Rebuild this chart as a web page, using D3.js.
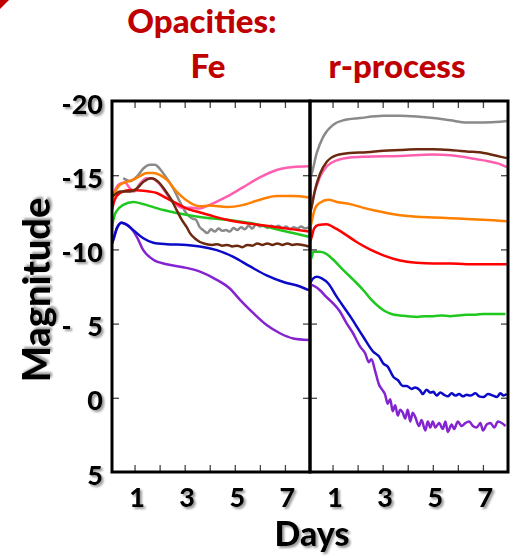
<!DOCTYPE html>
<html>
<head>
<meta charset="utf-8">
<script src="https://cdn.jsdelivr.net/npm/d3@7"></script>
<style>
  html, body { margin: 0; padding: 0; background: #fff; }
  svg { display: block; font-family: Lato, "Open Sans", sans-serif; }
</style>
</head>
<body>
<svg id="chart" width="514" height="558"></svg>
<script>
// panel titles and axis text
const panelTitles = ['Fe', 'r-process'];
const dayTicks = [1, 2, 3, 4, 5, 6, 7];
const dayLabels = [1, 3, 5, 7];
const magTicks = [-20, -15, -10, -5, 0, 5];
const magLabels = ['-20', '-15', '-10', '-\u20075', '0', '5'];

// Fe opacity panel, [day, magnitude]
const feGray = [[0.55,-14.8],[0.82,-14.6],[1.09,-14.9],[1.35,-15.45],[1.62,-15.7],[1.82,-15.7],[2.02,-15.4],[2.28,-14.8],[2.55,-14.1],[2.81,-13.2],[3.08,-12.4],[3.28,-12.1],[3.45,-12.0],[3.6,-11.5],[3.74,-11.3],[3.9,-11.1],[4.05,-11.35],[4.2,-11.2],[4.35,-11.4],[4.5,-11.25],[4.65,-11.3],[4.8,-11.2],[4.95,-11.45],[5.1,-11.3],[5.25,-11.5],[5.4,-11.35],[5.55,-11.6],[5.7,-11.4],[5.85,-11.7],[6.0,-11.55],[6.15,-11.6],[6.3,-11.45],[6.45,-11.6],[6.6,-11.5],[6.75,-11.6],[6.9,-11.4],[7.05,-11.55],[7.2,-11.35],[7.35,-11.5],[7.5,-11.4],[7.65,-11.55],[7.8,-11.4],[7.95,-11.5]];
const feBrown = [[0.1,-13.55],[0.22,-13.7],[0.42,-13.9],[0.82,-13.9],[1.09,-14.1],[1.35,-14.55],[1.68,-14.8],[1.95,-14.55],[2.21,-14.0],[2.48,-13.3],[2.68,-12.65],[2.88,-12.0],[3.08,-11.5],[3.21,-11.1],[3.4,-10.75],[3.61,-10.5],[3.88,-10.35],[4.1,-10.3],[4.3,-10.35],[4.5,-10.25],[4.7,-10.3],[4.9,-10.2],[5.1,-10.25],[5.3,-10.15],[5.5,-10.3],[5.7,-10.25],[5.9,-10.4],[6.1,-10.3],[6.3,-10.4],[6.5,-10.3],[6.7,-10.4],[6.9,-10.3],[7.1,-10.4],[7.3,-10.3],[7.5,-10.35],[7.7,-10.3],[7.95,-10.2]];
const fePink = [[0.1,-13.3],[0.25,-14.1],[0.45,-14.45],[0.62,-14.5],[0.82,-14.1],[0.98,-13.9],[1.2,-14.4],[1.48,-14.8],[1.75,-14.75],[2.0,-14.4],[2.3,-13.7],[2.68,-13.0],[2.94,-12.8],[3.28,-12.8],[3.6,-12.75],[4.0,-13.0],[4.68,-13.55],[5.34,-14.2],[6.0,-14.85],[6.67,-15.35],[7.33,-15.55],[7.95,-15.6]];
const feOrange = [[0.1,-13.3],[0.15,-13.55],[0.42,-14.35],[0.69,-14.55],[0.95,-14.7],[1.22,-14.95],[1.48,-15.15],[1.75,-15.15],[2.02,-15.0],[2.28,-14.7],[2.68,-13.9],[3.08,-13.3],[3.61,-12.9],[4.0,-12.95],[4.68,-12.85],[5.34,-13.0],[6.0,-13.35],[6.67,-13.6],[7.33,-13.6],[7.95,-13.5]];
const feRed = [[0.1,-12.65],[0.2,-13.3],[0.42,-13.8],[0.82,-14.0],[1.35,-13.95],[1.88,-13.8],[2.28,-13.45],[2.68,-13.1],[3.08,-12.75],[3.48,-12.55],[4.0,-12.3],[4.68,-12.0],[5.34,-11.8],[6.0,-11.65],[6.67,-11.5],[7.33,-11.35],[7.95,-11.2]];
const feGreen = [[0.1,-11.6],[0.25,-12.5],[0.55,-13.0],[0.95,-13.2],[1.35,-13.05],[1.75,-12.85],[2.15,-12.65],[2.68,-12.45],[3.34,-12.25],[4.0,-12.1],[4.68,-12.0],[5.34,-11.85],[6.0,-11.65],[6.67,-11.35],[7.33,-11.1],[7.95,-10.85]];
const feBlue = [[0.1,-10.4],[0.18,-10.8],[0.3,-11.45],[0.49,-11.8],[0.69,-11.65],[0.95,-11.3],[1.35,-10.75],[1.75,-10.45],[2.28,-10.35],[3.08,-10.3],[3.61,-10.2],[4.28,-9.95],[4.94,-9.5],[5.61,-8.85],[6.27,-8.25],[6.94,-7.8],[7.6,-7.5],[7.95,-7.25]];
const fePurple = [[0.1,-10.4],[0.18,-10.8],[0.3,-11.45],[0.49,-11.8],[0.6,-11.75],[0.82,-11.5],[1.09,-10.85],[1.35,-9.95],[1.75,-9.3],[2.28,-9.0],[2.94,-8.8],[3.61,-8.5],[4.28,-7.95],[4.81,-7.35],[5.21,-6.6],[5.74,-5.7],[6.27,-4.9],[6.8,-4.35],[7.33,-4.0],[7.95,-3.9]];

// r-process opacity panel, [day, magnitude]
const rGray = [[0.1,-14.7],[0.17,-15.1],[0.37,-16.5],[0.63,-17.6],[1.03,-18.4],[1.43,-18.7],[2.1,-18.85],[3.03,-19.0],[3.69,-19.0],[4.36,-18.95],[5.02,-18.85],[5.69,-18.7],[6.35,-18.55],[7.02,-18.55],[7.68,-18.6],[7.95,-18.65]];
const rBrown = [[0.1,-12.4],[0.17,-12.9],[0.3,-14.0],[0.5,-15.1],[0.77,-15.9],[1.17,-16.35],[1.7,-16.5],[2.36,-16.55],[3.03,-16.65],[3.69,-16.7],[4.36,-16.75],[5.02,-16.75],[5.69,-16.7],[6.35,-16.6],[7.02,-16.5],[7.68,-16.25],[7.95,-16.15]];
const rPink = [[0.1,-12.4],[0.2,-13.3],[0.5,-14.9],[0.77,-15.6],[1.17,-16.0],[1.7,-16.2],[2.36,-16.25],[3.69,-16.3],[5.02,-16.4],[5.69,-16.35],[6.35,-16.2],[7.02,-16.0],[7.68,-15.75],[7.95,-15.55]];
const rOrange = [[0.1,-11.4],[0.17,-11.9],[0.3,-12.75],[0.5,-13.15],[0.83,-13.35],[1.17,-13.2],[1.7,-13.05],[2.36,-12.75],[3.03,-12.5],[3.69,-12.3],[4.36,-12.2],[5.02,-12.15],[5.69,-12.1],[6.35,-12.05],[7.02,-12.0],[7.95,-11.9]];
const rRed = [[0.1,-10.5],[0.17,-10.85],[0.26,-11.4],[0.43,-11.65],[0.77,-11.7],[1.03,-11.5],[1.43,-11.1],[1.96,-10.5],[2.49,-10.0],[3.03,-9.6],[3.69,-9.25],[4.36,-9.1],[5.02,-9.05],[5.69,-9.05],[6.35,-9.0],[7.02,-9.0],[7.95,-9.0]];
const rGreen = [[0.1,-9.2],[0.17,-9.5],[0.23,-9.85],[0.5,-9.85],[0.7,-9.75],[1.03,-9.3],[1.43,-8.6],[1.83,-7.95],[2.23,-7.25],[2.5,-6.7],[2.8,-6.2],[3.03,-5.9],[3.35,-5.65],[3.69,-5.55],[4.0,-5.5],[4.36,-5.45],[4.7,-5.5],[5.02,-5.5],[5.35,-5.55],[5.69,-5.5],[6.0,-5.55],[6.35,-5.6],[6.7,-5.6],[7.02,-5.65],[7.4,-5.65],[7.9,-5.65]];
const rBlue = [[0.1,-7.7],[0.23,-8.05],[0.37,-8.15],[0.57,-8.05],[0.83,-7.7],[1.17,-6.8],[1.7,-5.5],[2.23,-4.1],[2.63,-3.1],[2.85,-2.8],[3.03,-2.3],[3.2,-2.1],[3.43,-1.4],[3.6,-1.2],[3.8,-0.8],[3.96,-0.8],[4.15,-0.6],[4.3,-0.7],[4.49,-0.5],[4.6,-0.25],[4.75,-0.55],[4.9,-0.35],[5.02,-0.4],[5.15,-0.15],[5.3,-0.35],[5.45,-0.2],[5.6,-0.1],[5.75,-0.3],[5.9,-0.15],[6.05,-0.25],[6.2,-0.1],[6.35,-0.2],[6.5,-0.15],[6.7,-0.3],[6.85,-0.1],[7.02,-0.05],[7.2,-0.25],[7.4,-0.15],[7.55,-0.05],[7.7,-0.3],[7.82,-0.15],[7.95,-0.25]];
const rPurple = [[0.1,-7.2],[0.15,-7.6],[0.3,-7.5],[0.5,-7.25],[0.75,-6.8],[1.0,-6.4],[1.3,-5.8],[1.55,-5.05],[1.8,-4.4],[2.1,-3.45],[2.3,-3.0],[2.45,-2.4],[2.55,-2.6],[2.7,-1.8],[2.85,-0.9],[3.0,-0.5],[3.1,-0.2],[3.2,0.4],[3.3,0.1],[3.4,0.9],[3.5,0.5],[3.6,1.2],[3.7,0.8],[3.8,1.0],[3.9,1.4],[4.0,0.8],[4.1,1.6],[4.2,1.0],[4.3,1.3],[4.45,1.9],[4.55,1.5],[4.7,2.2],[4.8,1.6],[4.9,2.0],[5.0,1.6],[5.1,2.0],[5.25,1.7],[5.4,2.1],[5.5,1.6],[5.6,2.3],[5.75,1.8],[5.85,2.1],[6.0,1.6],[6.15,1.9],[6.3,1.7],[6.45,1.6],[6.6,1.9],[6.75,2.0],[6.9,1.7],[7.0,2.2],[7.15,1.8],[7.3,1.7],[7.45,2.0],[7.6,1.6],[7.75,1.7],[7.9,1.9]];

const colors = {
  gray: '#8a8a8a', brown: '#6b2a10', pink: '#ff5fae', orange: '#ff8000',
  red: '#ff0000', green: '#1ec81e', blue: '#0a0ac8', purple: '#8424d0'
};

const feSeries = [
  ['gray', feGray], ['pink', fePink], ['orange', feOrange], ['green', feGreen],
  ['red', feRed], ['brown', feBrown], ['purple', fePurple], ['blue', feBlue]
];
const rSeries = [
  ['gray', rGray], ['pink', rPink], ['brown', rBrown], ['orange', rOrange],
  ['red', rRed], ['green', rGreen], ['purple', rPurple], ['blue', rBlue]
];

const svg = d3.select('#chart');
const
  plotTop = 101, plotBottom = 472,
  panelW = 198,
  heavy = 900,
  panels = [
    {x0: 112, title: panelTitles[0], series: feSeries},
    {x0: 310, title: panelTitles[1], series: rSeries}
  ]
  ;

const defs = svg.append('defs');
defs.append('filter')
  .attr('id', 'shadow')
  .attr('x', '-20%').attr('y', '-20%').attr('width', '150%').attr('height', '150%')
  .append('feDropShadow')
  .attr('dx', 2).attr('dy', 2).attr('stdDeviation', 1.3)
  .attr('flood-color', '#777').attr('flood-opacity', 0.75);

// small red corner mark
svg.append('path').attr('d', 'M0,0L9,0L0,9Z').attr('fill', '#c00000');

const yScale = d3.scaleLinear().domain([-20, 5]).range([plotTop, plotBottom]);

svg.append('text')
  .attr('x', 202).attr('y', 33)
  .attr('text-anchor', 'middle')
  .attr('fill', '#c00000')
  .attr('font-size', 33).attr('font-weight', heavy)
  .text('Opacities:');

panels.forEach((p, i) => {
  const xScale = d3.scaleLinear().domain([0.1, 8]).range([p.x0, p.x0 + panelW]);
  const g = svg.append('g');

  defs.append('clipPath').attr('id', 'clip' + i)
    .append('rect')
    .attr('x', p.x0).attr('y', plotTop).attr('width', panelW).attr('height', plotBottom - plotTop);

  const line = d3.line()
    .x(d => xScale(d[0]))
    .y(d => yScale(d[1]))
    .curve(d3.curveMonotoneX);

  g.append('g')
    .attr('clip-path', `url(#clip${i})`)
    .selectAll('path')
    .data(p.series)
    .join('path')
    .attr('d', d => line(d[1]))
    .attr('fill', 'none')
    .attr('stroke', d => colors[d[0]])
    .attr('stroke-width', 2.5)
    .attr('stroke-linejoin', 'round');

  // inward ticks on all sides
  const tickStyle = sel => {
    sel.select('.domain').remove();
    sel.selectAll('.tick line').attr('stroke', '#444').attr('stroke-width', 1.3);
    sel.selectAll('.tick text').remove();
  };
  g.append('g').attr('transform', `translate(0,${plotBottom})`)
    .call(d3.axisBottom(xScale).tickValues(dayTicks).tickSize(-7)).call(tickStyle);
  g.append('g').attr('transform', `translate(0,${plotTop})`)
    .call(d3.axisTop(xScale).tickValues(dayTicks).tickSize(-7)).call(tickStyle);
  g.append('g').attr('transform', `translate(${p.x0},0)`)
    .call(d3.axisRight(yScale).tickValues([-15, -10, -5, 0]).tickSize(7)).call(tickStyle);
  g.append('g').attr('transform', `translate(${p.x0 + panelW},0)`)
    .call(d3.axisLeft(yScale).tickValues([-15, -10, -5, 0]).tickSize(7)).call(tickStyle);

  g.append('rect')
    .attr('x', p.x0).attr('y', plotTop).attr('width', panelW).attr('height', plotBottom - plotTop)
    .attr('fill', 'none').attr('stroke', '#000').attr('stroke-width', 3);

  // day labels
  const xl = g.append('g').attr('transform', `translate(0,${plotBottom})`)
    .call(d3.axisBottom(xScale).tickValues(dayLabels).tickSize(0).tickPadding(0).tickFormat(d3.format('d')));
  xl.select('.domain').remove();
  xl.selectAll('.tick text')
    .attr('y', 35).attr('dy', null).attr('dx', 2)
    .attr('fill', '#000')
    .attr('font-family', 'Lato, sans-serif')
    .attr('font-size', 27).attr('font-weight', heavy)
    .attr('filter', 'url(#shadow)');

  svg.append('text')
    .attr('x', p.x0 + (i === 0 ? 96 : 87)).attr('y', 78)
    .attr('text-anchor', 'middle')
    .attr('fill', '#c00000')
    .attr('font-size', 33).attr('font-weight', heavy)
    .text(p.title);
});

// magnitude labels
const yl = svg.append('g').attr('transform', 'translate(103,0)')
  .call(d3.axisLeft(yScale).tickValues(magTicks).tickSize(0).tickPadding(0)
    .tickFormat((d, i) => magLabels[i]));
yl.select('.domain').remove();
yl.selectAll('.tick text')
  .attr('x', 0).attr('dy', '0.45em')
  .attr('fill', '#000')
  .attr('font-family', 'Lato, sans-serif')
  .attr('font-size', 27).attr('font-weight', heavy)
  .attr('filter', 'url(#shadow)');

svg.append('text')
  .attr('transform', 'translate(50,290) rotate(-90)')
  .attr('text-anchor', 'middle')
  .attr('fill', '#000')
  .attr('font-size', 38).attr('font-weight', heavy)
  .attr('filter', 'url(#shadow)')
  .text('Magnitude');

svg.append('text')
  .attr('x', 312).attr('y', 546)
  .attr('text-anchor', 'middle')
  .attr('fill', '#000')
  .attr('font-size', 34).attr('font-weight', heavy)
  .attr('filter', 'url(#shadow)')
  .text('Days');
</script>
</body>
</html>
